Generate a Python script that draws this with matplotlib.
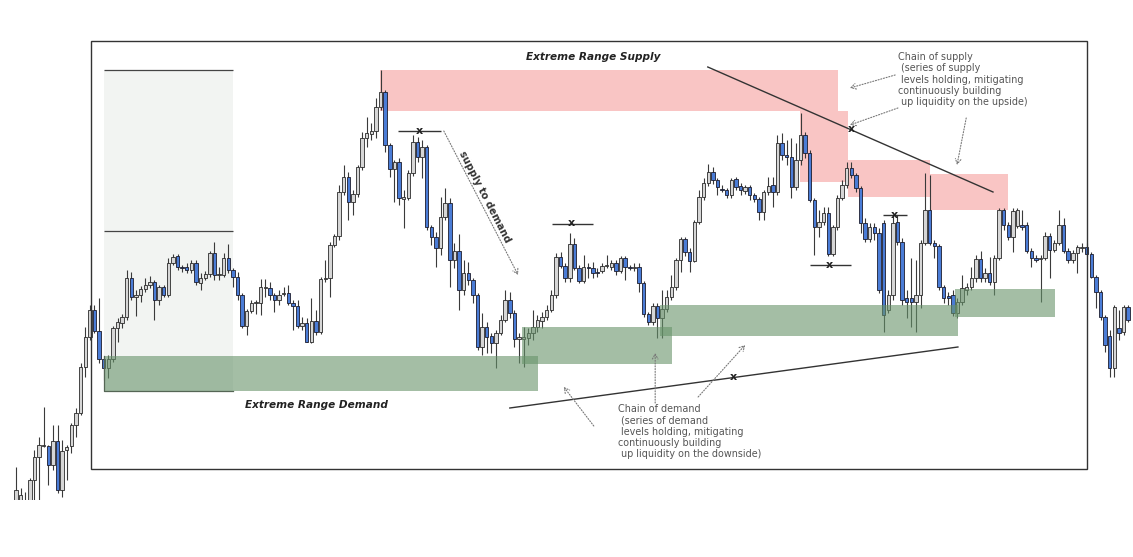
import matplotlib.pyplot as plt
from matplotlib.patches import Rectangle
import numpy as np

# candle data (price units), one value per candle
opens = [52, 42, 37, 52, 77, 100, 111, 111, 92, 116,
         67, 107, 111, 132, 144, 190, 220, 247, 226, 198,
         189, 198, 229, 234, 240, 279, 260, 262, 268, 272,
         275, 257, 270, 262, 294, 301, 290, 290, 287, 294,
         274, 279, 283, 304, 282, 282, 299, 287, 280, 262,
         231, 246, 254, 254, 269, 269, 262, 257, 263, 264,
         254, 251, 231, 234, 215, 236, 225, 278, 279, 312,
         321, 365, 380, 355, 363, 390, 419, 423, 426, 450,
         465, 412, 388, 395, 358, 359, 384, 415, 400, 410,
         330, 320, 309, 340, 354, 297, 306, 267, 284, 277,
         262, 210, 230, 221, 214, 224, 237, 257, 244, 218,
         218, 219, 224, 230, 236, 240, 247, 262, 300, 291,
         279, 313, 289, 276, 290, 289, 285, 286, 291, 290,
         294, 286, 299, 290, 289, 290, 274, 243, 235, 251,
         239, 248, 260, 270, 297, 318, 305, 296, 335, 360,
         374, 385, 377, 368, 367, 362, 378, 371, 366, 370,
         362, 358, 345, 365, 372, 365, 414, 402, 400, 370,
         397, 422, 404, 357, 330, 335, 344, 303, 330, 359,
         372, 389, 382, 369, 334, 318, 330, 324, 334, 247,
         262, 335, 315, 259, 259, 255, 262, 314, 347, 314,
         311, 270, 261, 262, 244, 255, 267, 270, 279, 298,
         279, 284, 275, 299, 347, 332, 320, 331, 332, 332,
         306, 299, 298, 299, 321, 307, 314, 332, 306, 297,
         304, 309, 310, 303, 280, 265, 240, 221, 189, 229,
         225, 250]
closes = [67, 62, 57, 77, 100, 112, 112, 92, 116, 67,
          106, 110, 132, 144, 190, 220, 247, 226, 198, 189,
          198, 229, 235, 240, 279, 260, 262, 268, 272, 275,
          257, 270, 262, 294, 300, 290, 289, 287, 294, 275,
          279, 283, 304, 282, 283, 299, 287, 280, 262, 231,
          246, 254, 255, 270, 270, 262, 257, 262, 264, 254,
          251, 231, 234, 215, 236, 225, 278, 279, 312, 321,
          365, 380, 355, 363, 390, 419, 424, 426, 450, 465,
          412, 388, 395, 359, 360, 384, 415, 400, 410, 330,
          320, 309, 340, 354, 297, 306, 267, 284, 277, 262,
          210, 230, 220, 214, 224, 237, 257, 244, 218, 220,
          220, 224, 230, 237, 240, 247, 262, 300, 291, 279,
          313, 289, 276, 290, 289, 284, 284, 291, 292, 294,
          286, 299, 290, 289, 290, 274, 243, 235, 251, 239,
          248, 260, 270, 297, 318, 305, 296, 335, 360, 374,
          385, 377, 370, 367, 362, 377, 370, 367, 370, 362,
          358, 345, 365, 371, 365, 414, 402, 400, 370, 397,
          422, 404, 357, 330, 335, 344, 303, 330, 359, 372,
          389, 382, 369, 334, 318, 330, 324, 267, 242, 262,
          334, 315, 257, 255, 255, 262, 314, 347, 314, 311,
          270, 259, 259, 244, 255, 269, 270, 279, 298, 279,
          284, 275, 299, 347, 332, 320, 346, 347, 330, 306,
          299, 297, 299, 321, 307, 314, 332, 306, 297, 304,
          310, 310, 303, 280, 265, 240, 212, 189, 250, 224,
          250, 237]
highs = [90, 69, 65, 79, 107, 120, 150, 112, 132, 132,
         117, 112, 134, 149, 194, 230, 252, 252, 259, 200,
         202, 231, 239, 243, 287, 285, 267, 271, 279, 281,
         277, 272, 272, 299, 303, 303, 292, 294, 297, 297,
         284, 286, 306, 315, 290, 304, 313, 289, 285, 264,
         248, 257, 257, 278, 278, 275, 264, 267, 270, 272,
         257, 257, 240, 239, 259, 247, 280, 297, 315, 323,
         372, 392, 385, 367, 392, 425, 440, 434, 459, 487,
         467, 414, 397, 399, 367, 387, 422, 420, 417, 412,
         332, 325, 360, 369, 359, 314, 323, 297, 295, 279,
         264, 244, 235, 224, 227, 242, 267, 265, 247, 224,
         230, 229, 247, 242, 245, 252, 267, 304, 305, 294,
         324, 319, 292, 302, 294, 295, 289, 294, 302, 297,
         297, 301, 301, 292, 294, 294, 276, 245, 254, 254,
         267, 267, 282, 299, 320, 320, 309, 337, 367, 379,
         393, 390, 379, 372, 369, 379, 380, 374, 372, 372,
         364, 360, 367, 380, 380, 422, 424, 417, 419, 414,
         444, 425, 407, 359, 347, 350, 350, 332, 362, 377,
         395, 395, 384, 371, 339, 334, 334, 329, 337, 267,
         342, 342, 319, 267, 299, 297, 317, 384, 382, 317,
         313, 272, 265, 267, 259, 282, 274, 290, 302, 306,
         289, 300, 302, 349, 349, 335, 349, 349, 347, 335,
         309, 302, 302, 325, 324, 317, 347, 339, 309, 307,
         312, 314, 314, 305, 282, 267, 242, 227, 252, 247,
         252, 252]
lows = [47, 37, 32, 47, 57, 57, 110, 72, 87, 64,
        60, 77, 104, 120, 142, 180, 217, 224, 194, 177,
        179, 195, 215, 229, 237, 257, 241, 255, 265, 269,
        237, 252, 260, 260, 292, 287, 285, 284, 284, 272,
        267, 277, 280, 277, 277, 280, 284, 270, 257, 229,
        222, 244, 243, 242, 260, 257, 245, 252, 261, 252,
        227, 229, 227, 215, 214, 222, 223, 275, 260, 310,
        317, 362, 337, 342, 360, 387, 410, 417, 419, 447,
        405, 380, 355, 352, 329, 357, 381, 395, 379, 327,
        312, 290, 302, 337, 270, 289, 247, 262, 272, 254,
        207, 202, 204, 204, 189, 222, 235, 239, 210, 194,
        190, 212, 217, 225, 229, 237, 245, 259, 289, 275,
        275, 287, 274, 274, 279, 279, 280, 284, 289, 287,
        282, 284, 277, 287, 286, 265, 240, 232, 232, 219,
        219, 245, 257, 267, 285, 301, 285, 295, 333, 357,
        371, 373, 362, 365, 359, 359, 367, 362, 363, 357,
        355, 337, 337, 362, 350, 362, 397, 392, 359, 367,
        392, 399, 355, 302, 320, 332, 301, 301, 327, 357,
        369, 379, 365, 324, 315, 315, 317, 264, 225, 244,
        257, 312, 252, 239, 230, 225, 249, 312, 312, 299,
        267, 254, 252, 241, 239, 252, 262, 267, 275, 275,
        275, 272, 262, 297, 327, 317, 305, 329, 327, 304,
        290, 295, 255, 297, 279, 305, 312, 304, 294, 294,
        284, 305, 301, 279, 249, 237, 205, 180, 180, 217,
        222, 235]

opens = np.array(opens, float)
closes = np.array(closes, float)
highs = np.array(highs, float)
lows = np.array(lows, float)
idx = np.arange(len(opens))
up = closes >= opens

fig = plt.figure(figsize=(11.33, 5.57), dpi=100)
ax = fig.add_axes([0, 57 / 557, 1, 500 / 557])
ax.set_xlim(-3.47, 242.04)
ax.set_ylim(57, 557)
ax.axis('off')

# candles
ax.vlines(idx, lows, highs, color='#3a3a3a', lw=0.8, zorder=2)
body_lo = np.minimum(opens, closes)
body_h = np.maximum(np.abs(closes - opens), 0.9)
ax.bar(idx[up], body_h[up], bottom=body_lo[up], width=0.74,
       color='#d6d6d6', edgecolor='#2a2a2a', lw=0.6, zorder=3)
ax.bar(idx[~up], body_h[~up], bottom=body_lo[~up], width=0.74,
       color='#4a7cd6', edgecolor='#1c1c2c', lw=0.6, zorder=3)


def zone(x0, x1, y0, y1, color, alpha=1.0, z=1):
    ax.add_patch(Rectangle((x0, y0), x1 - x0, y1 - y0, facecolor=color,
                           edgecolor='none', alpha=alpha, zorder=z))


# extreme range box
zone(19.07, 47.02, 166, 487, '#f2f4f2', z=0.5)
ax.hlines([487, 326], 19.07, 47.02, color='#444444', lw=0.9, zorder=1)

# supply zones
zone(78.9, 178.1, 446, 487, '#f9c5c4')
zone(169.9, 180.3, 375, 446, '#f9c5c4')
zone(180.3, 198.05, 360, 397, '#f9c5c4')
zone(198.05, 214.95, 347, 383, '#f9c5c4')

# demand zones
green = '#67936a'
zone(19.07, 113.1, 166, 201, green, 0.6, 4)
zone(109.6, 142.1, 193, 230, green, 0.6, 4)
zone(139.5, 204.1, 221, 252, green, 0.6, 4)
zone(203.5, 225.1, 240, 268, green, 0.6, 4)
ax.plot([19.07, 19.07, 47.02], [201, 166, 166], color='#556655', lw=0.9, zorder=4)

# frame
ax.add_patch(Rectangle((16.25, 88), 232.07 - 16.25, 516 - 88, fill=False,
                       edgecolor='#333333', lw=1.0, zorder=5))

# trend lines
ax.plot([149.9, 211.7], [490, 365], color='#333333', lw=1.0, zorder=6)
ax.plot([107.0, 204.1], [149, 210], color='#333333', lw=1.0, zorder=6)

# swing markers
for x0, x1, y in [(82.8, 92.1, 426), (116.1, 125.0, 333),
                  (172.0, 180.9, 292), (187.9, 193.1, 342)]:
    ax.hlines(y, x0, x1, color='#333333', lw=1.0, zorder=6)
    ax.text((x0 + x1) / 2 - 0.1, y + 0.5, 'x', fontsize=8, fontweight='bold',
            ha='center', va='center', color='#222222', zorder=7)
for x, y in [(181.1, 428), (155.4, 180)]:
    ax.text(x, y + 0.5, 'x', fontsize=8, fontweight='bold', ha='center',
            va='center', color='#222222', zorder=7)

arrow = dict(arrowstyle='->,head_length=0.35,head_width=0.2', color='#777777',
             lw=0.8, ls=(0, (1, 1.5)), shrinkA=0, shrinkB=0)
for start, end in [((92.7, 426), (108.8, 282)),
                   ((190.5, 482), (180.7, 469)),
                   ((191.1, 449), (180.7, 432)),
                   ((205.9, 439), (203.9, 392)),
                   ((138.5, 154), (138.5, 204)),
                   ((147.8, 160), (158.0, 212)),
                   ((125.2, 131), (118.7, 170))]:
    ax.annotate('', xy=end, xytext=start, arrowprops=arrow, zorder=6)

ax.text(101.6, 360, 'supply to demand', rotation=-62.8, fontsize=7.2,
        fontweight='bold', color='#333333', ha='center', va='center',
        rotation_mode='anchor')
ax.text(125.0, 500, 'Extreme Range Supply', fontsize=7.6, fontweight='bold',
        fontstyle='italic', color='#222222', ha='center', va='center')
ax.text(65.0, 152, 'Extreme Range Demand', fontsize=7.6, fontweight='bold',
        fontstyle='italic', color='#222222', ha='center', va='center')
ax.text(191.1, 505, 'Chain of supply\n (series of supply\n levels holding, mitigating\n'
        'continuously building\n up liquidity on the upside)', fontsize=6.9,
        color='#555555', ha='left', va='top', linespacing=1.17)
ax.text(130.4, 153, 'Chain of demand\n (series of demand\n levels holding, mitigating\n'
        'continuously building\n up liquidity on the downside)', fontsize=6.9,
        color='#555555', ha='left', va='top', linespacing=1.17)

fig.savefig('out.png', dpi=100, facecolor='white')
